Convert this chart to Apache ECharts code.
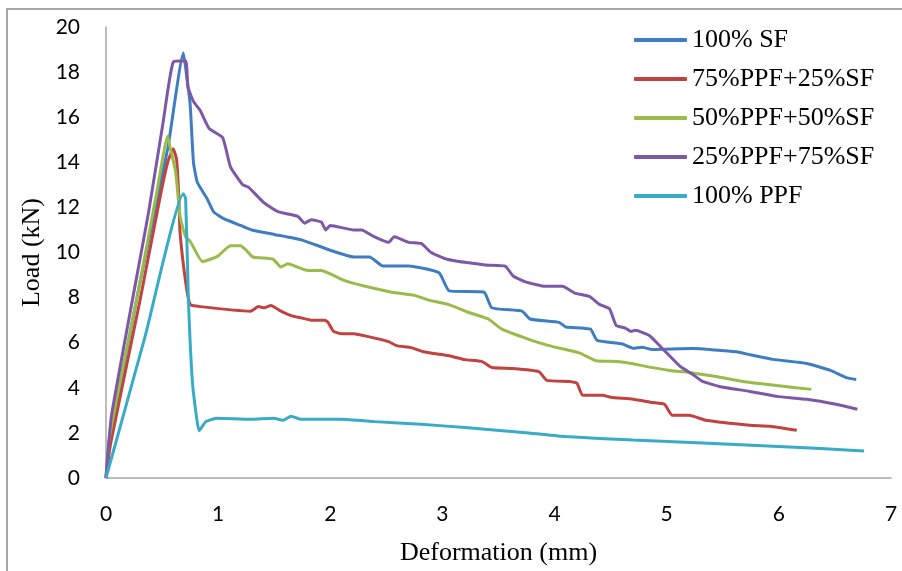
<!DOCTYPE html>
<html>
<head>
<meta charset="utf-8">
<script src="https://cdn.jsdelivr.net/npm/echarts@6/dist/echarts.min.js"></script>
<style>html,body{margin:0;padding:0;background:#fff;}#c{width:902px;height:571px;}</style>
</head>
<body>
<div id="c"></div>
<script>
const seriesNames = ['100% SF','75%PPF+25%SF','50%PPF+50%SF','25%PPF+75%SF','100% PPF'];
const xTicks = [0,1,2,3,4,5,6,7];
const yTicks = [0,2,4,6,8,10,12,14,16,18,20];

const sf100 = [[0,0],[0.04,1.8],[0.3,8.6],[0.55,14.6],[0.69,18.85],[0.72,17.8],[0.75,16.6],[0.78,14.0],[0.815,13.1],[0.9,12.4],[0.96,11.8],[1.05,11.5],[1.2,11.2],[1.3,11.0],[1.5,10.8],[1.75,10.55],[2.0,10.1],[2.21,9.8],[2.35,9.8],[2.47,9.4],[2.7,9.4],[2.97,9.1],[3.06,8.3],[3.37,8.25],[3.44,7.55],[3.71,7.4],[3.78,7.05],[4.04,6.9],[4.1,6.7],[4.32,6.6],[4.38,6.1],[4.6,5.95],[4.7,5.75],[4.78,5.8],[4.87,5.7],[5.23,5.74],[5.62,5.6],[5.74,5.47],[5.95,5.26],[6.25,5.08],[6.46,4.77],[6.6,4.45],[6.69,4.37]];

const ppf75sf25 = [[0,0],[0.04,1.5],[0.3,7.8],[0.48,12.4],[0.55,14.0],[0.6,14.6],[0.63,14.1],[0.65,12.4],[0.66,10.9],[0.71,8.7],[0.75,7.7],[0.84,7.6],[1.29,7.4],[1.36,7.6],[1.41,7.55],[1.47,7.65],[1.56,7.4],[1.65,7.2],[1.74,7.1],[1.83,7.0],[1.95,7.0],[1.98,6.9],[2.03,6.5],[2.1,6.4],[2.21,6.4],[2.34,6.27],[2.52,6.05],[2.59,5.87],[2.72,5.78],[2.83,5.6],[3.05,5.43],[3.2,5.25],[3.35,5.17],[3.44,4.9],[3.62,4.86],[3.86,4.72],[3.93,4.33],[4.13,4.28],[4.2,4.2],[4.25,3.67],[4.43,3.67],[4.5,3.58],[4.7,3.49],[4.87,3.35],[4.98,3.27],[5.05,2.78],[5.2,2.78],[5.35,2.56],[5.74,2.34],[5.92,2.3],[6.16,2.12]];

const ppf50sf50 = [[0,0],[0.03,1.8],[0.3,8.6],[0.45,12.6],[0.55,15.15],[0.57,14.7],[0.62,13.6],[0.65,12.1],[0.66,11.6],[0.71,10.7],[0.75,10.5],[0.86,9.6],[0.93,9.7],[1.0,9.85],[1.11,10.3],[1.2,10.3],[1.25,10.1],[1.31,9.8],[1.49,9.7],[1.56,9.35],[1.62,9.5],[1.8,9.2],[1.92,9.2],[2.0,9.05],[2.13,8.75],[2.31,8.5],[2.55,8.24],[2.75,8.1],[2.87,7.9],[3.05,7.7],[3.23,7.35],[3.41,7.05],[3.53,6.6],[3.77,6.15],[3.95,5.87],[4.22,5.55],[4.37,5.2],[4.55,5.17],[4.7,5.07],[4.81,4.95],[5.03,4.77],[5.2,4.68],[5.44,4.5],[5.68,4.28],[5.98,4.1],[6.29,3.93]];

const ppf25sf75 = [[0,0],[0.05,2.8],[0.38,11.8],[0.51,15.8],[0.6,18.45],[0.71,18.5],[0.73,17.35],[0.78,16.7],[0.84,16.3],[0.92,15.5],[1.04,15.1],[1.11,13.8],[1.22,13.0],[1.27,12.9],[1.41,12.2],[1.54,11.8],[1.71,11.6],[1.77,11.3],[1.83,11.45],[1.92,11.35],[1.96,11.0],[2.0,11.2],[2.21,11.0],[2.28,11.0],[2.39,10.7],[2.52,10.45],[2.57,10.7],[2.70,10.45],[2.81,10.4],[2.9,10.0],[3.04,9.7],[3.38,9.45],[3.56,9.4],[3.63,8.96],[3.74,8.7],[3.92,8.5],[4.07,8.5],[4.18,8.2],[4.31,8.05],[4.4,7.7],[4.49,7.5],[4.55,6.76],[4.63,6.65],[4.68,6.5],[4.72,6.55],[4.85,6.3],[4.96,5.75],[5.12,4.95],[5.23,4.6],[5.32,4.28],[5.47,4.06],[5.74,3.84],[5.98,3.62],[6.25,3.49],[6.51,3.27],[6.7,3.05]];

const ppf100 = [[0,0],[0.35,6.3],[0.69,12.6],[0.71,12.4],[0.735,7.9],[0.77,4.3],[0.81,2.6],[0.83,2.1],[0.89,2.5],[0.99,2.65],[1.29,2.6],[1.49,2.65],[1.58,2.56],[1.65,2.74],[1.74,2.6],[2.1,2.6],[2.4,2.5],[2.81,2.38],[3.2,2.24],[3.77,2.0],[4.1,1.84],[4.7,1.68],[5.32,1.55],[6.0,1.4],[6.76,1.2]];

const colors = ['#3f7dc3','#c0433f','#98bb4a','#7d58a6','#38abc8'];
const dataSets = [sf100, ppf75sf25, ppf50sf50, ppf25sf75, ppf100];

const chart = echarts.init(document.getElementById('c'), null, {renderer:'canvas'});
chart.setOption({
  animation: false,
  backgroundColor: '#fff',
  graphic: [{type:'rect', shape:{x:7,y:9,width:1000,height:1000}, style:{fill:'none', stroke:'#a6a6a6', lineWidth:2}, silent:true}],
  grid: {left:106, top:27, right:11, bottom:91, containLabel:false},
  legend: {
    orient:'vertical', left:634, top:27, padding:0, itemWidth:53, itemHeight:4, itemGap:13,
    icon:'roundRect',
    data: seriesNames,
    textStyle:{fontFamily:'Liberation Serif', fontSize:26, color:'#000', lineHeight:26}
  },
  xAxis: {
    type:'value', min:0, max:7, interval:1,
    name:'Deformation (mm)', nameLocation:'middle', nameGap:62,
    nameTextStyle:{fontFamily:'Liberation Serif', fontSize:26, color:'#000'},
    axisLine:{lineStyle:{color:'#a6a6a6', width:1.5}},
    axisTick:{show:false}, splitLine:{show:false},
    axisLabel:{margin:26, fontFamily:'Lato', fontSize:21, color:'#000', formatter:(v)=> xTicks.includes(v)? String(v):''}
  },
  yAxis: {
    type:'value', min:0, max:20, interval:2,
    name:'Load (kN)', nameLocation:'middle', nameGap:60,
    nameTextStyle:{fontFamily:'Liberation Serif', fontSize:26, color:'#000'},
    axisLine:{show:true, lineStyle:{color:'#a6a6a6', width:1.5}},
    axisTick:{show:false}, splitLine:{show:false},
    axisLabel:{margin:26, fontFamily:'Lato', fontSize:21, color:'#000', formatter:(v)=> yTicks.includes(v)? String(v):''}
  },
  series: seriesNames.map((n,i)=>({
    name:n, type:'line', data:dataSets[i], showSymbol:false, symbol:'none', smooth:0.15,
    lineStyle:{color:colors[i], width:3}, itemStyle:{color:colors[i]}
  }))
});
</script>
</body>
</html>
